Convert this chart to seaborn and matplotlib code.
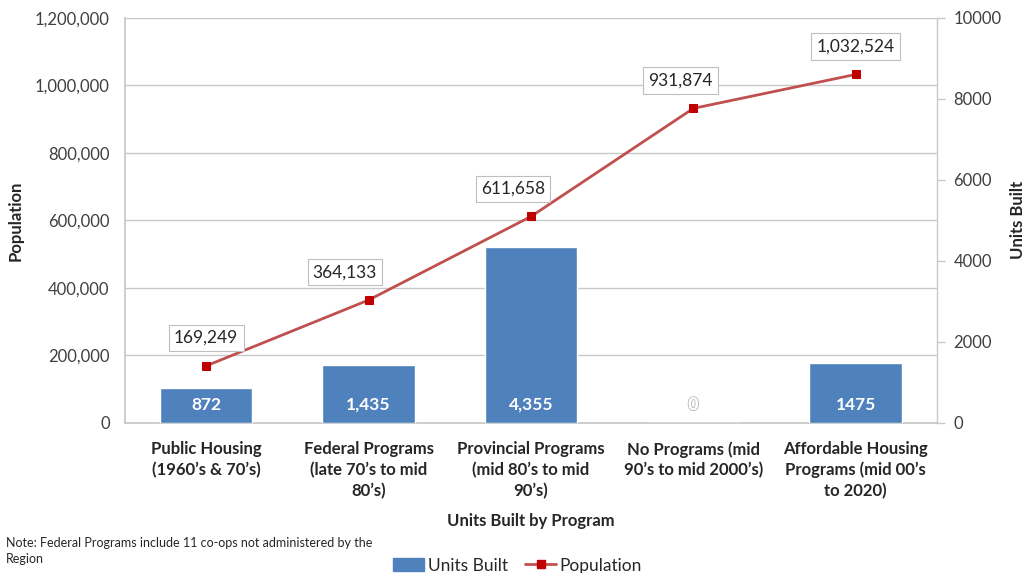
import matplotlib
matplotlib.use("Agg")
import matplotlib.pyplot as plt
import matplotlib.patheffects as pe
from matplotlib.ticker import FuncFormatter
from matplotlib.lines import Line2D
from matplotlib.patches import Patch
import seaborn as sns
import pandas as pd

categories = [
    "Public Housing\n(1960\u2019s & 70\u2019s)",
    "Federal Programs\n(late 70\u2019s to mid\n80\u2019s)",
    "Provincial Programs\n(mid 80\u2019s to mid\n90\u2019s)",
    "No Programs (mid\n90\u2019s to mid 2000\u2019s)",
    "Affordable Housing\nPrograms (mid 00\u2019s\nto 2020)",
]
units_built = [872, 1435, 4355, 0, 1475]
units_labels = ["872", "1,435", "4,355", "0", "1475"]
population = [169249, 364133, 611658, 931874, 1032524]
population_labels = ["169,249", "364,133", "611,658", "931,874", "1,032,524"]

sns.set_theme(style="white")
plt.rcParams["font.family"] = ["Lato", "DejaVu Sans"]

df = pd.DataFrame({"cat": categories, "units": units_built, "pop": population})

fig = plt.figure(figsize=(10.29, 5.73), dpi=100)
ax = fig.add_axes([0.1215, 0.2618, 0.789, 0.707])
ax2 = ax.twinx()
ax3 = ax.twinx()

GRID = "#C8C8C8"
BAR = "#4F81BD"
LINE = "#C0504D"
MARK = "#C00000"
TXT = "#262626"
TICK = "#404040"

# population axis (left) with grid
ax.set_xlim(-0.5, 4.5)
ax.set_ylim(0, 1200000)
ax.set_yticks(range(0, 1200001, 200000))
ax.yaxis.set_major_formatter(FuncFormatter(lambda v, p: f"{int(v):,}"))
ax.grid(axis="y", color=GRID, linewidth=1)
ax.set_axisbelow(True)
ax.tick_params(axis="y", length=0, labelsize=12, colors=TICK, pad=11)
ax.set_xticks(range(len(categories)))
ax.set_xticklabels(categories, fontweight="bold", fontsize=12, color=TXT, linespacing=1.35)
ax.tick_params(axis="x", length=0, pad=13)
ax.set_ylabel("Population", fontweight="bold", fontsize=12, color=TXT, labelpad=8)
ax.set_xlabel("Units Built by Program", fontweight="bold", fontsize=12, color=TXT, labelpad=10)

# bars (right axis)
sns.barplot(data=df, x="cat", y="units", ax=ax2, color=BAR, width=0.57, saturation=1, zorder=2)
ax2.set_xlim(-0.5, 4.5)
ax2.set_ylim(0, 10000)
ax2.set_yticks(range(0, 10001, 2000))
ax2.tick_params(axis="y", length=6, width=1, color=GRID, labelsize=12, labelcolor=TICK, pad=6)
ax2.set_ylabel("Units Built", fontweight="bold", fontsize=12, color=TXT, labelpad=6)
ax2.set_xlabel("")
for i, lab in enumerate(units_labels):
    t = ax2.annotate(lab, xy=(i, 0), xytext=(0, 13), textcoords="offset points",
                     ha="center", va="center", color="white", fontweight="bold", fontsize=12.5)
    if units_built[i] == 0:
        t.set_path_effects([pe.withStroke(linewidth=1.5, foreground="#BBBBBB"), pe.Normal()])

# line (population)
sns.lineplot(x=list(range(len(categories))), y=population, ax=ax3, color=LINE, linewidth=2,
             marker="s", markersize=6, markerfacecolor=MARK, markeredgecolor=MARK, zorder=3)
ax3.set_ylim(0, 1200000)
ax3.set_xlim(-0.5, 4.5)
ax3.set_yticks([])
ax3.set_ylabel("")
xoffs = [0, -17, -13, -9, 0]
for i, lab in enumerate(population_labels):
    ax3.annotate(lab, xy=(i, population[i]), xytext=(xoffs[i], 20), textcoords="offset points",
                 ha="center", va="center", fontsize=12.5, color=TXT,
                 bbox=dict(boxstyle="square,pad=0.3", fc="white", ec="#BFBFBF", lw=0.8))

for a in (ax, ax2, ax3):
    a.spines["top"].set_visible(False)
for a in (ax2, ax3):
    a.spines["left"].set_visible(False)
    a.spines["bottom"].set_visible(False)
ax.spines["right"].set_visible(False)
ax3.spines["right"].set_visible(False)
ax.spines["left"].set_color(GRID)
ax.spines["bottom"].set_color(GRID)
ax2.spines["right"].set_color(GRID)
ax2.spines["right"].set_linewidth(1)

handles = [Patch(facecolor=BAR, edgecolor=BAR, label="Units Built"),
           Line2D([0], [0], color=LINE, lw=2, marker="s", markersize=6,
                  markerfacecolor=MARK, markeredgecolor=MARK, label="Population")]
fig.legend(handles=handles, loc="center", bbox_to_anchor=(0.503, 0.013), ncol=2, frameon=False,
           fontsize=12.5, handlelength=1.8, handletextpad=0.2, columnspacing=1.0, labelcolor=TXT)

fig.text(0.006, 0.038, "Note: Federal Programs include 11 co-ops not administered by the\nRegion",
         fontsize=9, color=TXT, va="center", ha="left", linespacing=1.45)

fig.savefig("out.png", dpi=100)
